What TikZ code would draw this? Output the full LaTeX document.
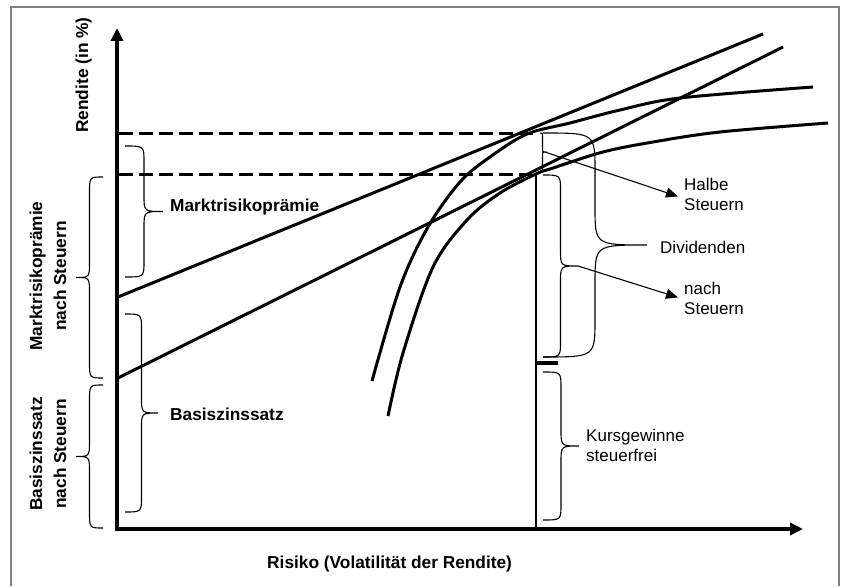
\documentclass[tikz,border=0pt]{standalone}
\usepackage{fontspec}
\setmainfont{Liberation Sans}
\usetikzlibrary{arrows.meta}
\newcommand\BrR[5]{\draw[bracestyle] (#1,#2) .. controls ({#1+#4/2},#2) .. ({#1+#4/2},{#2+#5}) -- ({#1+#4/2},{(#2+#3)/2-#5}) .. controls ({#1+#4/2},{(#2+#3)/2}) .. ({#1+#4},{(#2+#3)/2}) .. controls ({#1+#4/2},{(#2+#3)/2}) .. ({#1+#4/2},{(#2+#3)/2+#5}) -- ({#1+#4/2},{#3-#5}) .. controls ({#1+#4/2},#3) .. (#1,#3);}
\begin{document}
\begin{tikzpicture}[x=1pt,y=-1pt,
  frame/.style={draw=black!50,line width=1.5pt},
  axis/.style={line width=4pt,line join=miter,{Triangle[length=13pt,width=12pt]}-{Triangle[length=13pt,width=12pt]}},
  thickline/.style={line width=3pt},
  dashline/.style={line width=3pt,dash pattern=on 14pt off 6pt},
  bracestyle/.style={line width=1.1pt},
  arr/.style={line width=1.1pt,-{Triangle[length=12pt,width=10pt]}},
  rlab/.style={inner sep=0pt,font=\fontsize{17}{20}\selectfont,align=left},
  blab/.style={inner sep=0pt,font=\fontsize{17.3}{24}\selectfont\bfseries},
]
\useasboundingbox (0,0) rectangle (842,586);
\draw[frame] (11,586) -- (11,7) -- (839,7) -- (839,586);
% axes
\coordinate (ytip) at (117,28);
\coordinate (O) at (117,529);
\coordinate (xtip) at (803,529);
\draw[axis] (ytip) -- (O) -- (xtip);
% dashed levels
\coordinate (d1) at (119,133); \coordinate (d1e) at (533,133);
\coordinate (d2) at (119,174); \coordinate (d2e) at (532,174);
\draw[dashline] (d1) -- (d1e);
\draw[dashline] (d2) -- (d2e);
% capital market lines
\coordinate (a1) at (118,297); \coordinate (a2) at (763,34);
\coordinate (b1) at (118,378); \coordinate (b2) at (783,47);
\draw[thickline] (a1) -- (a2);
\draw[thickline] (b1) -- (b2);
% efficient frontiers
\draw[thickline] plot[smooth,tension=0.55] coordinates {(372,381) (400,287) (428,227) (460,182) (490,157) (527,134) (570,123) (620,110) (680,98) (813,87)};
\draw[thickline] plot[smooth,tension=0.55] coordinates {(388,416) (403,353) (433,267) (467,220) (500,193) (536,174) (553,168) (603,152) (653,142) (720,132) (828,123)};
% vertical split line and tick
\coordinate (v1) at (536,174); \coordinate (v2) at (536,529);
\draw[line width=2pt] (v1) -- (v2);
\coordinate (t1) at (535,363); \coordinate (t2) at (558,363);
\draw[line width=4pt] (t1) -- (t2);
% braces
\BrR{103}{177}{378}{-27}{16}
\BrR{103}{385}{528}{-27}{16}
\BrR{125}{146}{277}{38}{16}
\BrR{125}{314}{512}{33}{16}
\BrR{543}{372}{520}{36}{16}
\BrR{543}{133}{357}{104}{38}
\BrR{543}{175}{357}{35}{16}
\BrR{540}{133}{171}{5}{3}
% labels
\node[blab,rotate=90,anchor=base west] (ylab) at (88,133) {Rendite (in \%)};
\node[blab,anchor=base west] (xlab) at (267,568) {Risiko (Volatilität der Rendite)};
\node[blab,anchor=base west] (mrp) at (170,211) {Marktrisikoprämie};
\node[blab,anchor=base west] (bz) at (170,420) {Basiszinssatz};
\node[blab,rotate=90,align=center] (mrpn) at (48,276) {Marktrisikoprämie\\nach Steuern};
\node[blab,rotate=90,align=center] (bzn) at (48,454) {Basiszinssatz\\nach Steuern};
\node[rlab,anchor=base west] (div) at (660,253) {Dividenden};
\node[rlab,anchor=north west] (hs) at (684,178) {Halbe\\Steuern};
\node[rlab,anchor=north west] (ns) at (684,282) {nach\\Steuern};
\node[rlab,anchor=north west] (kg) at (586,429) {Kursgewinne\\steuerfrei};
% arrows
\coordinate (c1) at (545,152);
\coordinate (c2) at (578,266);
\draw[arr] (c1) -- ([xshift=-6pt,yshift=-2pt]hs.west);
\draw[arr] (c2) -- ([xshift=-6pt,yshift=1pt]ns.west);
\end{tikzpicture}
\end{document}
